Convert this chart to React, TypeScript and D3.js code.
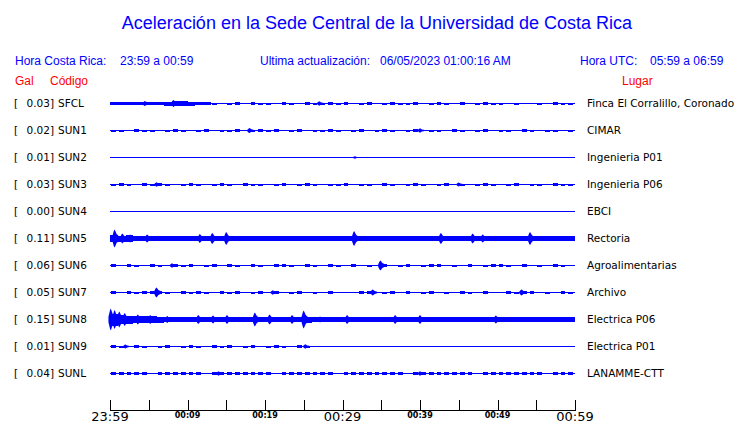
import React from "react";
import * as d3 from "d3";

const codes = ["SFCL", "SUN1", "SUN2", "SUN3", "SUN4", "SUN5", "SUN6", "SUN7", "SUN8", "SUN9", "SUNL"];
const gals = ["0.03", "0.02", "0.01", "0.03", "0.00", "0.11", "0.06", "0.05", "0.15", "0.01", "0.04"];
const places = ["Finca El Corralillo, Coronado", "CIMAR", "Ingenieria P01", "Ingenieria P06", "EBCI", "Rectoria", "Agroalimentarias", "Archivo", "Electrica P06", "Electrica P01", "LANAMME-CTT"];
const tickMinutes = [0, 5, 10, 15, 20, 25, 30, 35, 40, 45, 50, 55, 60];
const tickLabels = ["23:59", "", "00:09", "", "00:19", "", "00:29", "", "00:39", "", "00:49", "", "00:59"];
const bigLabels = ["23:59", "00:29", "00:59"];

// per-minute half-amplitude envelopes (pixels)
const envSFCL = [1.8,1.8,1.6,1.8,1.8,1.6,1.8,2.0,2.2,2.2, 2.0,1.8,1.6,1.0,0,1.0,1.1,0.8,1.1,1.0, 1.0,0,1.1,1.0,0,1.1,1.0,1.0,1.1,1.0, 1.1,0,1.0,1.1,0,1.0,1.1,1.0,1.0,1.1, 0,1.0,1.1,1.0,0,1.1,0,1.0,1.1,1.0, 1.0,0,1.0,0,0,1.0,0,1.1,1.0,1.0];
const envSUN1 = [1.0,1.0,0,1.1,1.0,1.0,0,1.0,1.1,1.0, 0,1.0,1.1,0,1.0,1.0,1.1,0,1.0,1.1, 1.0,1.1,0,1.0,1.1,0,1.0,1.0,1.1,1.0, 0,1.0,1.1,0,1.0,1.1,1.0,0,1.0,1.1, 0,1.0,1.0,0,1.1,1.0,0,1.0,1.1,0, 1.0,1.0,0,1.1,1.0,0,1.0,1.0,0,1.0];
const envSUN2 = [0,0,0,0,0,0,0,0,0,0, 0,0,0,0,0,0,0,0,0,0, 0,0,0,0,0,0,0,0,0,0, 0,0,0,0,0,0,0,0,0,0, 0,0,0,0,0,0,0,0,0,0, 0,0,0,0,0,0,0,0,0,0];
const envSUN3 = [1.0,1.1,1.0,0,1.1,1.0,1.1,1.0,0,1.0, 1.1,1.0,0,1.0,1.1,1.0,0,1.1,1.0,1.0, 0,1.0,1.1,0,1.0,1.1,1.0,0,1.0,1.0, 1.1,0,1.0,1.0,0,1.1,1.0,0,1.0,1.1, 1.0,0,1.0,1.1,0,1.0,0,1.0,1.1,1.0, 0,1.0,1.1,0,1.0,1.0,0,1.1,1.0,1.0];
const envSUN4 = [0,0,0,0,0,0,0,0,0,0, 0,0,0,0,0,0,0,0,0,0, 0,0,0,0,0,0,0,0,0,0, 0,0,0,0,0,0,0,0,0,0, 0,0,0,0,0,0,0,0,0,0, 0,0,0,0,0,0,0,0,0,0];
const envSUN5 = [3.4,3.0,3.4,2.6,2.4,2.6,2.8,2.4,2.4,2.4, 2.4,2.6,2.4,2.8,2.6,2.8,2.4,2.4,2.4,2.6, 2.4,2.4,2.4,2.6,2.4,2.4,2.4,2.4,2.6,2.4, 2.4,2.8,2.6,2.4,2.4,2.4,2.4,2.4,2.4,2.4, 2.6,2.4,2.6,2.4,2.4,2.4,2.6,2.4,2.6,2.4, 2.4,2.4,2.4,2.4,2.6,2.4,2.4,2.4,2.4,2.4];
const envSUN6 = [1.1,0,1.1,1.0,0,1.2,1.0,0,1.1,1.0, 1.1,0,1.0,1.2,0,1.1,1.0,0,1.1,1.0, 0,1.1,1.2,1.0,0,1.1,1.0,0,1.1,1.0, 0,1.1,0,1.0,0,1.1,0,1.0,1.1,0, 1.0,1.1,1.2,0,1.0,0,1.1,0,1.0,1.1, 1.2,1.0,0,1.1,0,1.0,0,1.1,1.0,0];
const envSUN7 = [1.1,0,1.1,1.0,1.2,1.1,1.2,1.0,0,1.1, 1.0,1.1,1.0,0,1.1,1.0,1.1,0,1.0,1.1, 0,1.1,0,1.0,1.1,0,1.0,0,1.1,0, 0,0,1.1,1.2,0,1.0,1.2,0,1.1,0, 1.0,1.1,0,1.0,0,1.1,1.0,0,1.1,0, 0,1.1,1.0,1.2,1.1,0,1.0,0,1.1,1.0];
const envSUN8 = [6,4.5,4,3.6,3.4,3.2,3.0,2.8,2.8,2.6, 2.6,2.8,2.6,2.6,2.8,2.6,2.6,2.4,2.6,2.6, 2.8,2.6,2.4,2.6,2.4,3.0,2.4,2.4,2.4,2.4, 2.6,2.4,2.6,2.4,2.4,2.4,2.4,2.4,2.4,2.4, 2.4,2.4,2.4,2.4,2.4,2.4,2.4,2.4,2.4,2.6, 2.4,2.4,2.4,2.4,2.4,2.4,2.4,2.4,2.4,2.4];
const envSUN9 = [1.1,1.0,0,1.1,1.0,0,1.0,1.1,0,1.0, 1.1,1.0,0,1.1,1.0,1.1,0,1.0,1.1,0, 1.0,1.1,1.0,0,1.1,1.0,0,0,0,0, 0,0,0,0,0,0,0,0,0,0, 0,0,0,0,0,0,0,0,0,0, 0,0,0,0,0,0,0,0,0,0];
const envSUNL = [1.3,1.3,1.2,1.3,1.3,0,1.3,1.3,1.3,1.2, 1.3,1.3,0,1.3,1.3,1.3,1.3,1.2,1.3,1.3, 1.3,0,1.3,1.3,1.3,1.3,1.3,1.2,1.3,0, 1.3,1.3,1.3,1.3,1.3,1.2,1.3,1.3,0,1.3, 1.3,1.3,1.3,1.2,1.3,1.3,1.3,0,1.3,1.3, 1.3,1.3,1.2,1.3,1.3,1.3,0,1.3,1.3,1.3];

// bursts: [minute, half-amplitude]
const burstSFCL = [[4.5, 2.5], [8.2, 3.5], [27, 2.2]];
const burstSUN1 = [[18, 2.5], [40, 2.2]];
const burstSUN2 = [[31.6, 1.2]];
const burstSUN3 = [[6, 2.2], [45, 2.0]];
const burstSUN4: number[][] = [];
const burstSUN5 = [[0.6, 9], [1.6, 5], [2.6, 4], [4.8, 4], [11.6, 4.5], [13.2, 5.5], [15.0, 6.5], [31.5, 7.5], [42.7, 5.5], [46.8, 5], [48.1, 4], [54.2, 6.5]];
const burstSUN6 = [[8, 2.2], [34.9, 5]];
const burstSUN7 = [[6.0, 5], [21, 2.2], [33.9, 3], [53.1, 3]];
const burstSUN8 = [[0.1, 11], [0.6, 9.5], [1.2, 8], [1.9, 6.5], [3.6, 5], [5.2, 4.5], [7.4, 3.5], [11.4, 4.5], [13.3, 4], [15.1, 4.5], [18.7, 7], [20.6, 5], [23.5, 4.5], [25.0, 9], [27.1, 3], [30.6, 4.5], [36.8, 4.5], [40.0, 4.5], [49.8, 4]];
const burstSUN9 = [[2, 2], [25.2, 2.2]];
const burstSUNL = [[14, 2.2], [40, 2.2]];

const envs = [envSFCL, envSUN1, envSUN2, envSUN3, envSUN4, envSUN5, envSUN6, envSUN7, envSUN8, envSUN9, envSUNL];
const bursts = [burstSFCL, burstSUN1, burstSUN2, burstSUN3, burstSUN4, burstSUN5, burstSUN6, burstSUN7, burstSUN8, burstSUN9, burstSUNL];

const BLUE = "#0000ff";
const RED = "#ff0000";
const SANS = "'Liberation Sans', Arial, sans-serif";
const DEJAVU = "'DejaVu Sans', sans-serif";

export default function App() {
  const W = 740, H = 423;
  const x = d3.scaleLinear().domain([0, 60]).range([110, 575]);
  const y = d3.scalePoint<string>().domain(codes).range([103, 373]);
  const amp = d3.scaleLinear().domain([0, 1]).range([0, 1]);

  const burstArea = (cy: number) =>
    d3.area<[number, number]>()
      .x((d) => x(d[0]))
      .y0((d) => cy + amp(d[1]))
      .y1((d) => cy - amp(d[1]))
      .curve(d3.curveLinear);

  return (
    <svg width={W} height={H} style={{ position: "absolute", left: 0, top: 0, background: "#fff" }}>
      <text x={377} y={29} textAnchor="middle" fill={BLUE} fontFamily={SANS} fontSize={18}>
        Aceleración en la Sede Central de la Universidad de Costa Rica
      </text>
      <g fontFamily={SANS} fontSize={12} fill={BLUE}>
        <text x={15} y={65}>Hora Costa Rica:</text>
        <text x={120} y={65}>23:59 a 00:59</text>
        <text x={260} y={65}>Ultima actualización:</text>
        <text x={380} y={65}>06/05/2023 01:00:16 AM</text>
        <text x={580} y={65}>Hora UTC:</text>
        <text x={650} y={65}>05:59 a 06:59</text>
      </g>
      <g fontFamily={SANS} fontSize={12} fill={RED}>
        <text x={15} y={85}>Gal</text>
        <text x={50} y={85}>Código</text>
        <text x={622} y={85}>Lugar</text>
      </g>
      {codes.map((c, i) => {
        const cy = y(c) as number;
        const env = envs[i];
        return (
          <g key={c}>
            <text x={14} y={cy + 4} fontFamily={DEJAVU} fontSize={10.5} fill="#000">[</text>
            <text x={54} y={cy + 4} fontFamily={DEJAVU} fontSize={10.5} fill="#000" textAnchor="end">{gals[i] + "]"}</text>
            <text x={58} y={cy + 4} fontFamily={DEJAVU} fontSize={10.5} fill="#000">{c}</text>
            <text x={587} y={cy + 4} fontFamily={DEJAVU} fontSize={10.5} fill="#000">{places[i]}</text>
            <line x1={x(0)} x2={x(60)} y1={cy + 0.5} y2={cy + 0.5} stroke={BLUE} strokeWidth={1} />
            {env.map((v, k) => {
              if (v <= 0) return null;
              const solid = v >= 1.6;
              const x0 = x(k) + (solid ? 0 : 1);
              const x1 = solid ? x(k + 1) : x(k + 1) - 2;
              return (
                <rect key={k} x={x0} width={Math.max(1, x1 - x0)} y={cy + 0.5 - amp(v)} height={2 * amp(v)} fill={BLUE} shapeRendering="crispEdges" />
              );
            })}
            {bursts[i].map((b, k) => {
              const t = b[0], a = b[1];
              const shape: [number, number][] = [
                [t - 0.3, a * 0.25], [t - 0.1, a * 0.85], [t, a], [t + 0.1, a * 0.8], [t + 0.25, a * 0.5], [t + 0.5, a * 0.3], [t + 0.7, 0],
              ];
              return <path key={k} d={burstArea(cy + 0.5)(shape) || ""} fill={BLUE} />;
            })}
          </g>
        );
      })}
      <g>
        <line x1={x(0)} x2={x(60)} y1={410.5} y2={410.5} stroke="#000" strokeWidth={1} />
        {tickMinutes.map((m, i) => (
          <g key={m}>
            <line x1={Math.round(x(m)) + 0.5} x2={Math.round(x(m)) + 0.5} y1={400} y2={411} stroke="#000" strokeWidth={1} />
            {tickLabels[i] !== "" && (
              bigLabels.includes(tickLabels[i]) ? (
                <text x={x(m)} y={421} textAnchor="middle" fontFamily={DEJAVU} fontSize={13} fill="#000">{tickLabels[i]}</text>
              ) : (
                <text x={x(m)} y={418} textAnchor="middle" fontFamily={DEJAVU} fontSize={8} fontWeight="bold" fill="#000">{tickLabels[i]}</text>
              )
            )}
          </g>
        ))}
      </g>
    </svg>
  );
}
